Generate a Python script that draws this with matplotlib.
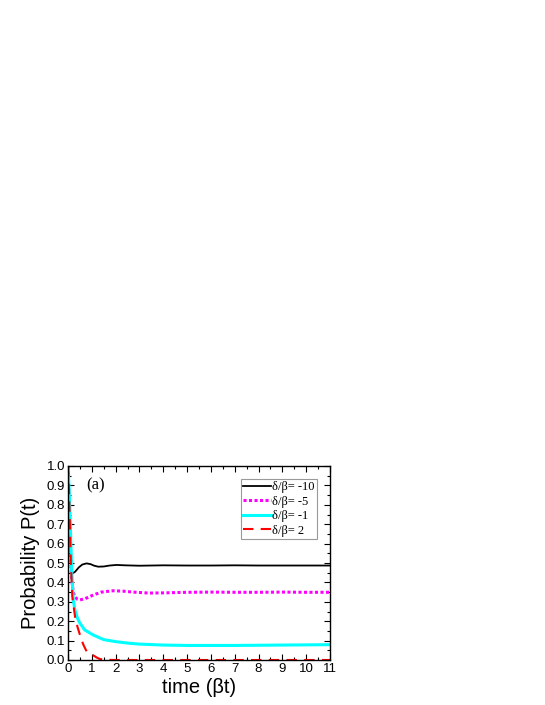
import matplotlib
matplotlib.use("Agg")
import matplotlib.pyplot as plt
from matplotlib.ticker import MultipleLocator

# data
t_black = [0, 0.05, 0.1, 0.15, 0.2, 0.3, 0.45, 0.6, 0.78, 0.95, 1.1, 1.27, 1.5, 1.75, 2.04, 2.4, 3, 4, 5, 6, 7, 8, 9, 10, 11]
p_black = [1.0, 0.78, 0.56, 0.46, 0.447, 0.455, 0.477, 0.492, 0.498, 0.494, 0.486, 0.481, 0.482, 0.487, 0.49, 0.488, 0.486, 0.488, 0.487, 0.487, 0.488, 0.487, 0.487, 0.487, 0.487]

t_mag = [0, 0.05, 0.1, 0.15, 0.22, 0.29, 0.4, 0.5, 0.7, 1.06, 1.4, 1.9, 2.3, 2.74, 3.4, 4, 5, 6, 7, 8, 9, 10, 11]
p_mag = [1.0, 0.8, 0.58, 0.42, 0.35, 0.325, 0.313, 0.31, 0.315, 0.335, 0.35, 0.357, 0.355, 0.35, 0.345, 0.346, 0.349, 0.35, 0.349, 0.349, 0.35, 0.349, 0.349]

t_cyan = [0, 0.04, 0.08, 0.12, 0.16, 0.22, 0.29, 0.4, 0.5, 0.7, 1.06, 1.5, 2.04, 2.6, 3, 4, 5, 6, 7, 8, 9, 10, 11]
p_cyan = [1.0, 0.9, 0.77, 0.6, 0.45, 0.31, 0.258, 0.215, 0.19, 0.155, 0.129, 0.105, 0.094, 0.086, 0.082, 0.077, 0.075, 0.075, 0.075, 0.076, 0.077, 0.078, 0.079]

t_red = [0, 0.04, 0.08, 0.12, 0.18, 0.22, 0.3, 0.4, 0.5, 0.64, 0.78, 0.92, 1.06, 1.2, 1.34, 1.6, 2, 3, 4, 5, 6, 7, 8, 9, 10, 11]
p_red = [1.0, 0.88, 0.7, 0.5, 0.33, 0.29, 0.22, 0.17, 0.13, 0.08, 0.045, 0.033, 0.024, 0.013, 0.005, 0.001, 0.0, 0.0, 0.0, 0.0, 0.0, 0.0, 0.0, 0.0, 0.0, 0.0]

labels = ["δ/β= -10", "δ/β= -5", "δ/β= -1", "δ/β= 2"]
x_ticks = list(range(0, 12))
y_ticks = [0.0, 0.1, 0.2, 0.3, 0.4, 0.5, 0.6, 0.7, 0.8, 0.9, 1.0]

fig = plt.figure(figsize=(5.45, 7.05), dpi=100)
ax = fig.add_axes([68/545, 45/705, 262/545, 194/705])

ax.plot(t_black, p_black, color="black", lw=1.3, label=labels[0])
ax.plot(t_mag, p_mag, color="#ff00ff", lw=2.2, ls=(0, (1, 0.8)), label=labels[1])
ax.plot(t_cyan, p_cyan, color="#00ffff", lw=2.2, label=labels[2])
ax.plot(t_red, p_red, color="#ff0000", lw=1.5, ls=(0, (5, 3.5)), label=labels[3])

ax.set_xlim(0, 11)
ax.set_ylim(0, 1.0)
ax.set_xticks(x_ticks)
ax.set_yticks(y_ticks)
ax.set_yticklabels([f"{v:.1f}" for v in y_ticks])
ax.xaxis.set_minor_locator(MultipleLocator(0.5))
ax.yaxis.set_minor_locator(MultipleLocator(0.05))
ax.tick_params(which="both", direction="in", top=True, right=True, width=0.8)
ax.tick_params(which="major", length=4, labelsize=9.5, pad=2)
ax.tick_params(which="minor", length=2)
for lab in ax.get_xticklabels() + ax.get_yticklabels():
    lab.set_family("Liberation Sans")
for s in ax.spines.values():
    s.set_linewidth(1.0)

ax.set_xlabel("time (βt)", fontsize=14.5, family="Liberation Sans", labelpad=2)
ax.set_ylabel("Probability P(t)", fontsize=14.5, family="Liberation Sans", labelpad=5)

ax.text(0.07, 0.94, "(a)", transform=ax.transAxes, fontsize=12, family="Liberation Serif", va="top")

leg = ax.legend(loc="upper right", bbox_to_anchor=(0.952, 0.935), prop={"family": "Liberation Serif", "size": 9},
                frameon=True, fancybox=False, edgecolor="#808080", handlelength=2.2, handletextpad=0.15,
                labelspacing=0.2, borderpad=0.2, borderaxespad=0.0)
leg.get_frame().set_linewidth(0.8)

fig.savefig("out.png", dpi=100)
